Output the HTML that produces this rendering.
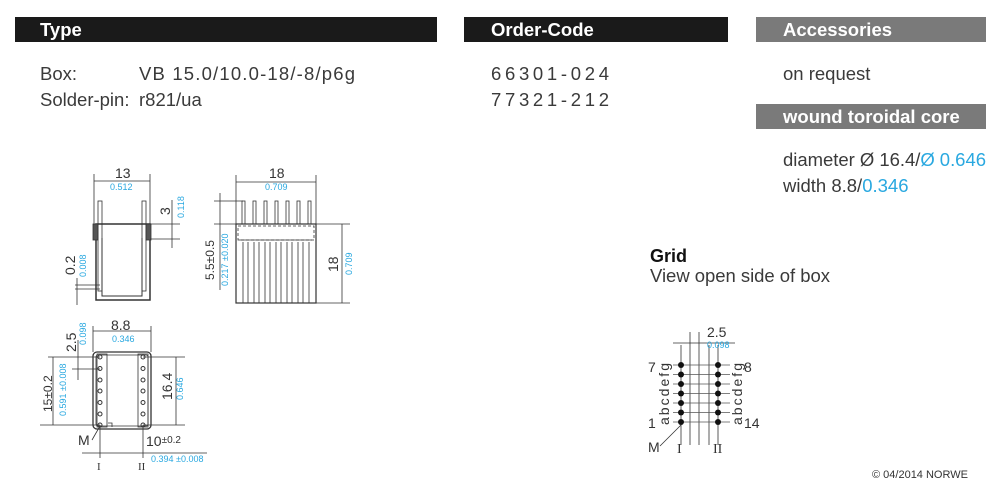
<!DOCTYPE html>
<html><head><style>
body{margin:0;width:1000px;height:496px;background:#fff;overflow:hidden;font-family:"Liberation Sans",sans-serif;}
svg{position:absolute;left:0;top:0}
</style></head><body>
<svg width="1000" height="496" viewBox="0 0 1000 496" font-family="Liberation Sans, sans-serif">
<rect x="15" y="17" width="422" height="25" fill="#1a1a1a"/>
<rect x="464" y="17" width="264" height="25" fill="#1a1a1a"/>
<rect x="756" y="17" width="230" height="25" fill="#7a7a7a"/>
<rect x="756" y="104" width="230" height="25" fill="#7a7a7a"/>
<g fill="#fff" font-weight="bold" font-size="18.5">
<text x="40" y="36">Type</text><text x="491" y="36">Order-Code</text>
<text x="783" y="36">Accessories</text><text x="783" y="123">wound toroidal core</text></g>
<g fill="#3a3a3a" font-size="18.5">
<text x="40" y="80">Box:</text><text x="139" y="80" textLength="216">VB 15.0/10.0-18/-8/p6g</text>
<text x="40" y="106">Solder-pin:</text><text x="139" y="106">r821/ua</text>
<text x="491" y="80" textLength="118">66301-024</text>
<text x="491" y="106" textLength="118">77321-212</text>
<text x="783" y="80">on request</text>
<text x="783" y="166" textLength="203">diameter  Ø 16.4/<tspan fill="#29a8e0">Ø 0.646</tspan></text>
<text x="783" y="192">width 8.8/<tspan fill="#29a8e0">0.346</tspan></text>
<text x="650" y="282" textLength="180">View open side of box</text>
</g>
<text x="650" y="262" font-size="18" font-weight="bold" fill="#111">Grid</text>
<text x="872" y="478" font-size="11" fill="#333">© 04/2014 NORWE</text>

<g stroke="#333" stroke-width="0.8" fill="none">
<line x1="94" y1="174" x2="94" y2="225"/><line x1="150" y1="174" x2="150" y2="225"/>
<line x1="94" y1="181" x2="150" y2="181"/>
<rect x="98" y="201" width="4" height="90"/><rect x="142" y="201" width="4" height="90"/>
<path d="M96 224 V300 H150 V224 Z" stroke-width="1.5"/>
<path d="M102 238 V296 H142 V238" stroke-width="1"/>
<rect x="93" y="224" width="5" height="16" fill="#555"/><rect x="146" y="224" width="5" height="16" fill="#555"/>
<line x1="98" y1="224" x2="180" y2="224"/><line x1="150" y1="239" x2="180" y2="239"/>
<line x1="172" y1="200" x2="172" y2="248"/>
<line x1="75" y1="285" x2="100" y2="285"/><line x1="75" y1="289" x2="100" y2="289"/><line x1="77" y1="278" x2="77" y2="305"/>
<line x1="236" y1="175" x2="236" y2="224"/><line x1="316" y1="175" x2="316" y2="224"/>
<line x1="236" y1="182" x2="316" y2="182"/>
<line x1="214" y1="201" x2="243" y2="201"/><line x1="220" y1="193" x2="220" y2="290"/>
<line x1="214" y1="224" x2="236" y2="224"/>
<line x1="316" y1="224" x2="350" y2="224"/><line x1="316" y1="303" x2="350" y2="303"/><line x1="342" y1="224" x2="342" y2="303"/>
<rect x="236" y="224" width="80" height="79" stroke-width="1.2"/>
<rect x="238" y="226" width="76" height="14" stroke-dasharray="3,2"/>
<g><rect x="242" y="201" width="3" height="23"/><rect x="253" y="201" width="3" height="23"/><rect x="264" y="201" width="3" height="23"/><rect x="275" y="201" width="3" height="23"/><rect x="286" y="201" width="3" height="23"/><rect x="297" y="201" width="3" height="23"/><rect x="308" y="201" width="3" height="23"/></g>
<path d="M243 242V303M248 242V303M254 242V303M259 242V303M265 242V303M270 242V303M276 242V303M281 242V303M287 242V303M292 242V303M298 242V303M303 242V303M309 242V303M239 240H312"/>
<rect x="93" y="352" width="58" height="77" rx="4" stroke-width="1.3"/>
<rect x="96" y="355" width="52" height="71" rx="2"/>
<rect x="97" y="354" width="10" height="73"/><rect x="138" y="354" width="10" height="73"/>
<line x1="93" y1="326" x2="93" y2="352"/><line x1="151" y1="326" x2="151" y2="352"/><line x1="93" y1="331" x2="151" y2="331"/>
<line x1="48" y1="357" x2="100" y2="357"/><line x1="72" y1="369" x2="100" y2="369"/><line x1="78" y1="340" x2="78" y2="380"/>
<line x1="53" y1="357" x2="53" y2="425"/><line x1="40" y1="425" x2="100" y2="425"/>
<line x1="143" y1="357" x2="185" y2="357"/><line x1="143" y1="425" x2="185" y2="425"/><line x1="176" y1="357" x2="176" y2="425"/>
<line x1="100" y1="425" x2="100" y2="458"/><line x1="143" y1="425" x2="143" y2="458"/>
<line x1="82" y1="453" x2="207" y2="453"/>
<line x1="92" y1="440" x2="100" y2="426"/>
<path d="M108 423h4v4"/>
<path d="M681 345V445M690 332V445M699 332V445M709 345V445M718 345V445"/>
<line x1="673" y1="343" x2="735" y2="343"/>
<line x1="660" y1="446" x2="681" y2="425"/>
</g>
<g fill="none" stroke="#333" stroke-width="1">
<circle cx="100" cy="357" r="2"/><circle cx="100" cy="368.5" r="2"/><circle cx="100" cy="380" r="2"/><circle cx="100" cy="391" r="2"/><circle cx="100" cy="402.5" r="2"/><circle cx="100" cy="414" r="2"/><circle cx="100" cy="425" r="2"/>
<circle cx="143" cy="357" r="2"/><circle cx="143" cy="368.5" r="2"/><circle cx="143" cy="380" r="2"/><circle cx="143" cy="391" r="2"/><circle cx="143" cy="402.5" r="2"/><circle cx="143" cy="414" r="2"/><circle cx="143" cy="425" r="2"/>
</g>
<g stroke="#555" stroke-width="0.8">
<path d="M673 365H730M673 374.5H730M673 384H730M673 393.5H730M673 403H730M673 412.5H730M673 422H730"/></g>
<g fill="#111">
<circle cx="681" cy="365" r="3"/><circle cx="681" cy="374.5" r="3"/><circle cx="681" cy="384" r="3"/><circle cx="681" cy="393.5" r="3"/><circle cx="681" cy="403" r="3"/><circle cx="681" cy="412.5" r="3"/><circle cx="681" cy="422" r="3"/>
<circle cx="718" cy="365" r="3"/><circle cx="718" cy="374.5" r="3"/><circle cx="718" cy="384" r="3"/><circle cx="718" cy="393.5" r="3"/><circle cx="718" cy="403" r="3"/><circle cx="718" cy="412.5" r="3"/><circle cx="718" cy="422" r="3"/>
</g>
<g font-size="14" fill="#333">
<text x="115" y="178">13</text><text x="269" y="178">18</text>
<text x="111" y="330">8.8</text>
<text x="707" y="337">2.5</text>
<text x="648" y="372">7</text><text x="744" y="372">8</text>
<text x="648" y="428">1</text><text x="744" y="428">14</text>
<text x="648" y="452">M</text><text x="78" y="445">M</text>
<text x="677" y="453" font-family="Liberation Serif">I</text><text x="713" y="453" font-family="Liberation Serif">II</text>
<text x="97" y="470" font-family="Liberation Serif" font-size="11">I</text><text x="138" y="470" font-family="Liberation Serif" font-size="11">II</text>
<text x="146" y="446">10<tspan font-size="10" dy="-3">±0.2</tspan></text>
<text transform="translate(170 215) rotate(-90)">3</text>
<text transform="translate(75 275) rotate(-90)">0.2</text>
<text transform="translate(214 280) rotate(-90)" font-size="12">5.5±0.5</text>
<text transform="translate(338 272) rotate(-90)">18</text>
<text transform="translate(76 352) rotate(-90)">2.5</text>
<text transform="translate(52 412) rotate(-90)" font-size="12">15±0.2</text>
<text transform="translate(172 400) rotate(-90)">16.4</text>
<text transform="translate(669 425) rotate(-90)" textLength="62">abcdefg</text>
<text transform="translate(742 425) rotate(-90)" textLength="62">abcdefg</text>
</g>
<g font-size="9" fill="#29a8e0">
<text x="110" y="190">0.512</text><text x="265" y="190">0.709</text>
<text x="112" y="342">0.346</text><text x="707" y="348">0.098</text>
<text x="151" y="462">0.394 ±0.008</text>
<text transform="translate(184 218) rotate(-90)">0.118</text>
<text transform="translate(86 277) rotate(-90)">0.008</text>
<text transform="translate(228 286) rotate(-90)">0.217 ±0.020</text>
<text transform="translate(352 275) rotate(-90)">0.709</text>
<text transform="translate(86 345) rotate(-90)">0.098</text>
<text transform="translate(66 416) rotate(-90)">0.591 ±0.008</text>
<text transform="translate(183 400) rotate(-90)">0.646</text>
</g>
</svg>
</body></html>
